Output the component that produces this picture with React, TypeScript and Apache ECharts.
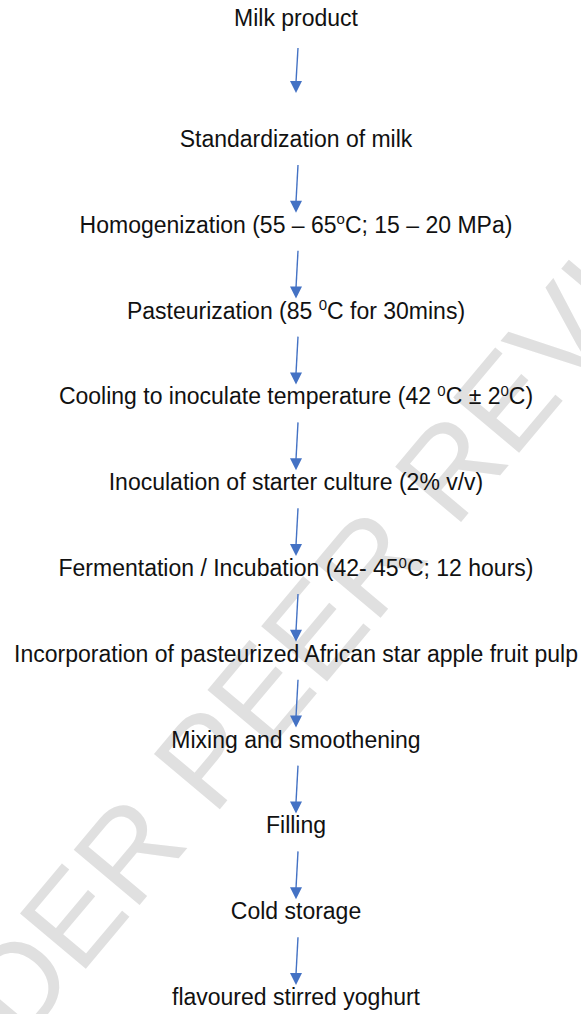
import React, { useEffect, useRef } from "react";
import * as echarts from "echarts";

// Flowchart steps (rich text: {s|...} marks a superscript)
const steps: string[] = [
  "Milk product",
  "Standardization of milk",
  "Homogenization (55 – 65{s|o}C; 15 – 20 MPa)",
  "Pasteurization (85 {s|0}C for 30mins)",
  "Cooling to inoculate temperature (42 {s|0}C ± 2{s|0}C)",
  "Inoculation of starter culture (2% v/v)",
  "Fermentation / Incubation (42- 45{s|0}C; 12 hours)",
  "Incorporation of pasteurized African star apple fruit pulp",
  "Mixing and smoothening",
  "Filling",
  "Cold storage",
  "flavoured stirred yoghurt",
];

const watermark = "UNDER PEER REVIEW";

const W = 581;
const H = 1014;
const CX = 296;
const ARROW = "#4472c4";

function stepY(i: number): number {
  if (i === 0) return 18;
  return 139 + (i - 1) * 85.8;
}

export default function App() {
  const ref = useRef<HTMLDivElement>(null);
  useEffect(() => {
    if (!ref.current) return;
    const chart = echarts.init(ref.current, undefined, { renderer: "svg" });
    const elements: any[] = [];

    elements.push({
      type: "text",
      x: 305,
      y: 640,
      rotation: (50 * Math.PI) / 180,
      z: 0,
      silent: true,
      style: {
        text: watermark,
        fill: "#e0e0e0",
        font: "125px 'Liberation Sans', Arial, sans-serif",
        align: "center",
        verticalAlign: "middle",
      },
    });

    steps.forEach((t, i) => {
      elements.push({
        type: "text",
        x: CX,
        y: stepY(i),
        z: 10,
        style: {
          text: t,
          fill: "#111",
          fontFamily: "'Liberation Sans', Arial, sans-serif",
          fontSize: 23,
          lineHeight: 27,
          align: "center",
          verticalAlign: "middle",
          rich: {
            s: {
              fontSize: 15,
              lineHeight: 15,
              verticalAlign: "top",
              fill: "#111",
              fontFamily: "'Liberation Sans', Arial, sans-serif",
            },
          },
        },
      });
    });

    for (let i = 0; i < steps.length - 1; i++) {
      const y1 = i === 0 ? stepY(0) + 30 : stepY(i) + 26;
      const y2 = i === 0 ? stepY(1) - 46 : stepY(i + 1) - 12;
      const x1 = CX + 2;
      const x2 = CX;
      const headH = 12;
      const headW = 6;
      elements.push({
        type: "line",
        z: 10,
        shape: { x1, y1, x2, y2: y2 - headH + 1 },
        style: { stroke: ARROW, lineWidth: 1.4 },
      });
      elements.push({
        type: "polygon",
        z: 10,
        shape: {
          points: [
            [x2 - headW, y2 - headH],
            [x2 + headW, y2 - headH],
            [x2, y2],
          ],
        },
        style: { fill: ARROW },
      });
    }

    chart.setOption({
      animation: false,
      backgroundColor: "#ffffff",
      graphic: { elements },
    });
    return () => chart.dispose();
  }, []);
  return (
    <div
      ref={ref}
      style={{ position: "fixed", left: 0, top: 0, width: W, height: H }}
    />
  );
}
